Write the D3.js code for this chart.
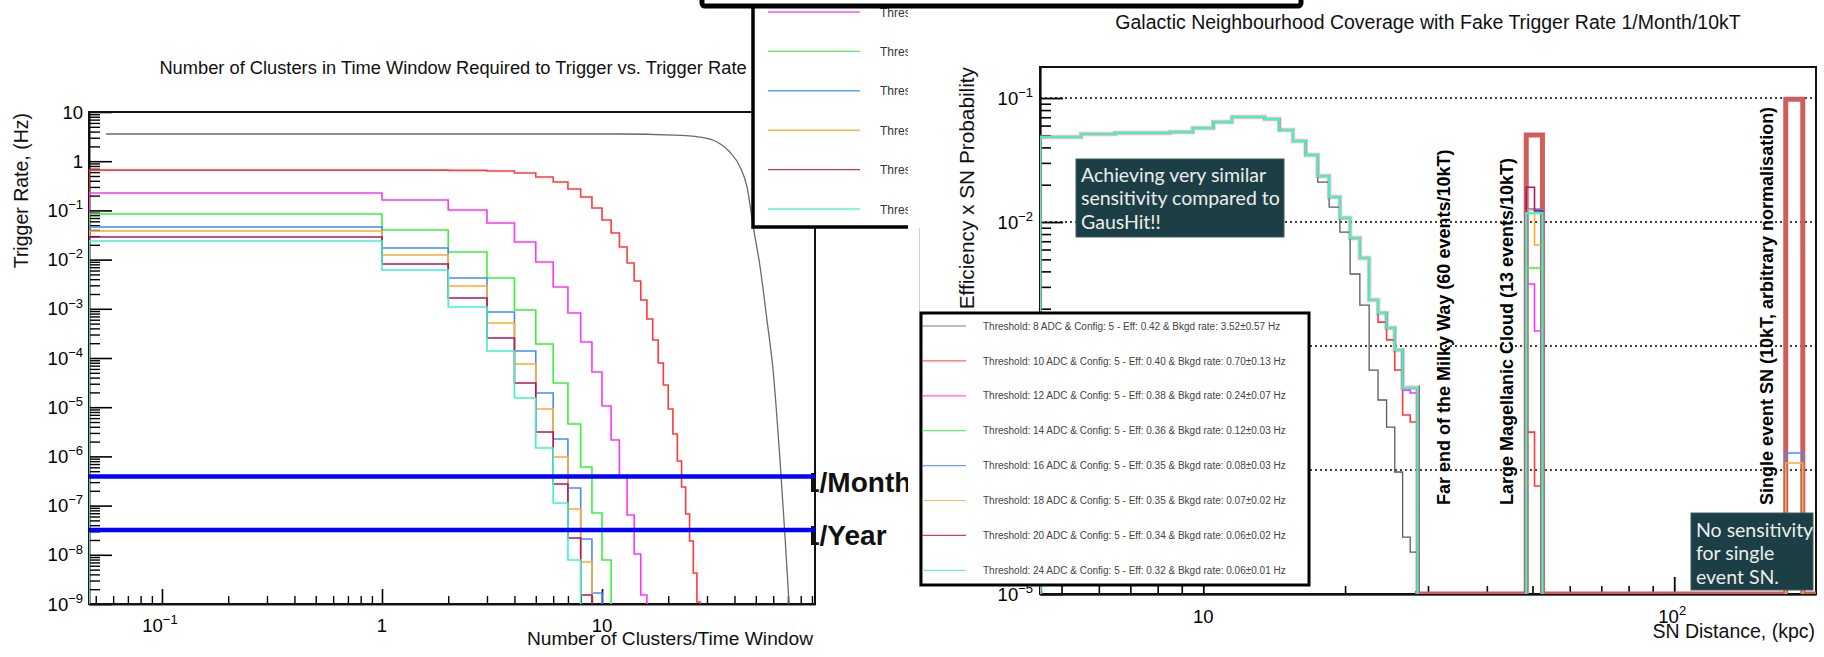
<!DOCTYPE html>
<html>
<head>
<meta charset="utf-8">
<script src="https://cdn.jsdelivr.net/npm/d3@7/dist/d3.min.js"></script>
<style>
html,body{margin:0;padding:0;background:#fff;}
svg{display:block;}
</style>
</head>
<body>
<svg id="chart" width="1824" height="657" xmlns="http://www.w3.org/2000/svg"></svg>
<script>
// ================= DATA =================
const thresholdsADC = [8, 10, 12, 14, 16, 18, 20, 24];
const configNumber = 5;
const efficiencies = ["0.42", "0.40", "0.38", "0.36", "0.35", "0.35", "0.34", "0.32"];
const bkgdRates = ["3.52", "0.70", "0.24", "0.12", "0.08", "0.07", "0.06", "0.06"];
const bkgdErrors = ["0.57", "0.13", "0.07", "0.03", "0.03", "0.02", "0.02", "0.01"];

// ---- Left chart: trigger rate (Hz) vs number of clusters in time window ----
// 8 ADC: smooth curve (clusters, Hz)
const rate8Clusters = [0.0556, 12.1, 21.0, 27.8, 33.4, 38.1, 42.4, 45.6, 48.7, 52.3, 56.2, 59.9, 64.4, 67.9, 70.8];
const rate8Hz = [3.57, 3.57, 3.40, 3.10, 2.46, 1.54, 0.763, 0.300, 0.0461, 0.00708, 0.00059, 0.000057, 8.5e-7, 2.3e-8, 1e-9];
// other thresholds: histogram, bin n = [n, n+1) clusters (bin 0 starts at axis minimum)
const rate10Hz = [0.66, 0.66, 0.65, 0.63, 0.575, 0.477, 0.377, 0.272, 0.187, 0.112, 0.0638, 0.0348, 0.0180, 0.00853, 0.00367, 0.00151, 6.21e-4, 2.32e-4, 7.91e-5, 2.82e-5, 9.18e-6, 2.85e-6, 8.07e-7, 2.39e-7, 6.75e-8, 1.91e-8, 4.27e-9, 1.1e-9];
const rate12Hz = [0.226, 0.163, 0.102, 0.0555, 0.0228, 0.00893, 0.00277, 8.22e-4, 2.11e-4, 5.19e-5, 1.06e-5, 2.15e-6, 4.0e-7, 6.44e-8, 1.04e-8, 1.52e-9];
const rate14Hz = [0.0845, 0.040, 0.01427, 0.00423, 9.46e-4, 1.93e-4, 3.10e-5, 4.56e-6, 6.10e-7, 7.08e-8, 7.83e-9];
const rate16Hz = [0.046, 0.0172, 0.00423, 8.61e-4, 1.39e-4, 1.95e-5, 2.26e-6, 2.28e-7, 2.09e-8, 1.67e-9];
const rate18Hz = [0.0381, 0.0124, 0.0029, 5.14e-4, 7.55e-5, 9.18e-6, 9.72e-7, 8.53e-8, 7.14e-9];
const rate20Hz = [0.0288, 0.00815, 0.00166, 2.55e-4, 3.10e-5, 3.13e-6, 2.75e-7, 2.19e-8, 1.52e-9];
const rate24Hz = [0.0239, 0.00615, 0.00109, 1.39e-4, 1.54e-5, 1.48e-6, 1.13e-7, 7.83e-9];
const fakeRateLevels = [3.9e-7, 3.2e-8];
const fakeRateLabels = ["1/Month", "1/Year"];
const leftTitle = "Number of Clusters in Time Window Required to Trigger vs. Trigger Rate";
const leftXTitle = "Number of Clusters/Time Window";
const leftYTitle = "Trigger Rate, (Hz)";
const leftYTickExps = [-9, -8, -7, -6, -5, -4, -3, -2, -1, 0, 1];
const leftXTicks = [0.1, 1, 10];
const leftXTickBase = ["10", "1", "10"];
const leftXTickSup = ["\u22121", "", ""];

// ---- Right chart: efficiency x SN probability vs SN distance (kpc) ----
const distEdges = [4.5, 5.5, 6.5, 7.5, 8.5, 9.5, 10.5, 11.5, 12.5, 13.5, 14.5, 15.5, 16.5, 17.5, 18.5, 19.5, 20.5, 21.5, 22.5, 23.5, 24.5, 25.5, 26.5, 27.5, 28.5, 48.5, 50.5, 52.5, 172.5, 187.5, 200];
const eff8 = [0.0485, 0.0513, 0.0523, 0.0523, 0.0532, 0.0573, 0.064, 0.0703, 0.0703, 0.0677, 0.0552, 0.045, 0.0347, 0.021, 0.0132, 0.0083, 0.00381, 0.00214, 0.00064, 0.000367, 0.000222, 0.0000964, 0.0000288, 0.0000218, 0, 0, 0, 0, 0, 0];
const eff10 = [0.0485, 0.0513, 0.0523, 0.0523, 0.0532, 0.0573, 0.064, 0.0703, 0.0703, 0.0677, 0.0552, 0.045, 0.0347, 0.0235, 0.0159, 0.01076, 0.00743, 0.00513, 0.00235, 0.00156, 0.00112, 0.00064, 0.000278, 0.000244, 0, 0.000202, 0.0000743, 0, 0, 0];
const eff12 = [0.0485, 0.0513, 0.0523, 0.0523, 0.0532, 0.0573, 0.064, 0.0703, 0.0703, 0.0677, 0.0552, 0.045, 0.0347, 0.0235, 0.0159, 0.01076, 0.00743, 0.00513, 0.00235, 0.00185, 0.0014, 0.000929, 0.000441, 0.000418, 0, 0.00316, 0.00132, 0, 0, 0];
const eff14 = [0.0485, 0.0513, 0.0523, 0.0523, 0.0532, 0.0573, 0.064, 0.0703, 0.0703, 0.0677, 0.0552, 0.045, 0.0347, 0.0235, 0.0159, 0.01076, 0.00743, 0.00513, 0.00235, 0.00185, 0.0014, 0.000929, 0.000458, 0.000458, 0, 0.00426, 0.00426, 0, 0, 0];
const eff16 = [0.0485, 0.0513, 0.0523, 0.0523, 0.0532, 0.0573, 0.064, 0.0703, 0.0703, 0.0677, 0.0552, 0.045, 0.0347, 0.0235, 0.0159, 0.01076, 0.00743, 0.00513, 0.00235, 0.00185, 0.0014, 0.000929, 0.000458, 0.000458, 0, 0.0127, 0.0127, 0, 0.000137, 0];
const eff18 = [0.0485, 0.0513, 0.0523, 0.0523, 0.0532, 0.0573, 0.064, 0.0703, 0.0703, 0.0677, 0.0552, 0.045, 0.0347, 0.0235, 0.0159, 0.01076, 0.00743, 0.00513, 0.00235, 0.00185, 0.0014, 0.000929, 0.000458, 0.000458, 0, 0.0125, 0.00653, 0, 0.000114, 0];
const eff20 = [0.0485, 0.0513, 0.0523, 0.0523, 0.0532, 0.0573, 0.064, 0.0703, 0.0703, 0.0677, 0.0552, 0.045, 0.0347, 0.0235, 0.0159, 0.01076, 0.00743, 0.00513, 0.00235, 0.00185, 0.0014, 0.000929, 0.000458, 0.000458, 0, 0.0191, 0.0123, 0, 0, 0];
const eff24 = [0.0485, 0.0513, 0.0523, 0.0523, 0.0532, 0.0573, 0.064, 0.0703, 0.0703, 0.0677, 0.0552, 0.045, 0.0347, 0.0235, 0.0159, 0.01076, 0.00743, 0.00513, 0.00235, 0.00185, 0.0014, 0.000929, 0.000458, 0.000458, 0, 0.0118, 0.0118, 0, 0, 0];
const snProbability = [0.0485, 0.0513, 0.0523, 0.0523, 0.0532, 0.0573, 0.064, 0.0703, 0.0703, 0.0677, 0.0552, 0.045, 0.0347, 0.0235, 0.0159, 0.01076, 0.00743, 0.00513, 0.00235, 0.00185, 0.0014, 0.000929, 0.00046, 0.00046, 0, 0.0503, 0.0503, 0, 0.098, 0];
const rightTitle = "Galactic Neighbourhood Coverage with Fake Trigger Rate 1/Month/10kT";
const rightXTitle = "SN Distance, (kpc)";
const rightYTitle = "Efficiency x SN Probability";
const rightYTickExps = [-5, -4, -3, -2, -1];
const rightXTicks = [10, 100];
const rightXTickBase = ["10", "10"];
const rightXTickSup = ["", "2"];
const regionLabels = ["Far end of the Milky Way (60 events/10kT)", "Large Magellanic Cloud (13 events/10kT)", "Single event SN (10kT, arbitrary normalisation)"];
const noteTop = ["Achieving very similar", "sensitivity compared to", "GausHit!!"];
const noteBottom = ["No sensitivity", "for single", "event SN."];

// ================= STYLE =================
const FONT = '"Liberation Sans", Arial, Helvetica, sans-serif';
const seriesColors = ["#5a5a5a", "#ff3a3a", "#ff33ff", "#38f238", "#418cff", "#ffab2a", "#b3145c", "#38f5cc"];
const seriesWidths = [1.3, 1.6, 1.6, 1.6, 1.6, 1.6, 1.6, 2.2];

const svg = d3.select("#chart");
const defs = svg.append("defs");

function powLabel(g, x, y, anchor, base, sup, size, supSize, weight) {
  const t = g.append("text").attr("x", x).attr("y", y).attr("text-anchor", anchor)
    .attr("font-family", FONT).attr("font-size", size).attr("fill", "#000");
  if (weight) t.attr("font-weight", weight);
  t.append("tspan").text(base);
  if (sup) t.append("tspan").attr("dy", -size * 0.42).attr("font-size", supSize).text(sup);
  return t;
}

function stepPath(edges, vals, xs, ys, yBottom, alongBottom) {
  let d = "", pen = false;
  for (let i = 0; i < vals.length; i++) {
    const v = vals[i], x0 = xs(edges[i]), x1 = xs(edges[i + 1]);
    if (v > 0) {
      const y = Math.min(yBottom, ys(v));
      if (!pen) { d += `M${x0},${yBottom}L${x0},${y}`; pen = true; }
      else d += `L${x0},${y}`;
      d += `L${x1},${y}`;
    } else if (alongBottom) {
      if (!pen) { d += `M${x0},${yBottom}`; pen = true; } else d += `L${x0},${yBottom}`;
      d += `L${x1},${yBottom}`;
    } else if (pen) {
      d += `L${x0},${yBottom}`; pen = false;
    }
  }
  if (pen) d += `L${xs(edges[vals.length])},${yBottom}`;
  return d;
}

function minorTicks(e0, e1, lo, hi) {
  const out = [];
  for (let e = e0; e <= e1; e++) for (let m = 2; m <= 9; m++) {
    const v = m * Math.pow(10, e);
    if (v >= lo && v <= hi) out.push(v);
  }
  return out;
}

function styleAxis(g, w) {
  g.selectAll("line,path").attr("stroke", "#000").attr("stroke-width", w);
  g.selectAll("text").remove();
}

// ================= LEFT CHART =================
const L = { left: 89, right: 815, top: 112, bottom: 604 };
const Lx = d3.scaleLog().domain([0.0466, 92.9]).range([L.left, L.right]);
const Ly = d3.scaleLog().domain([1e-9, 10]).range([L.bottom, L.top]);

defs.append("clipPath").attr("id", "clipL").append("rect")
  .attr("x", L.left).attr("y", L.top).attr("width", L.right - L.left).attr("height", L.bottom - L.top);
defs.append("clipPath").attr("id", "clipLabel").append("rect")
  .attr("x", 811).attr("y", 0).attr("width", 300).attr("height", 657);

const gL = svg.append("g");

// axes (ticks inward)
const lyMaj = gL.append("g").attr("transform", `translate(${L.left},0)`)
  .call(d3.axisLeft(Ly).tickValues(leftYTickExps.map(e => Math.pow(10, e))).tickSize(-23).tickSizeOuter(0).tickFormat(""));
styleAxis(lyMaj, 1.6);
const lyMin = gL.append("g").attr("transform", `translate(${L.left},0)`)
  .call(d3.axisLeft(Ly).tickValues(minorTicks(-9, 0, 1e-9, 10)).tickSize(-11).tickSizeOuter(0).tickFormat(""));
styleAxis(lyMin, 1.4);
const lxMaj = gL.append("g").attr("transform", `translate(0,${L.bottom})`)
  .call(d3.axisBottom(Lx).tickValues(leftXTicks).tickSize(-15).tickSizeOuter(0).tickFormat(""));
styleAxis(lxMaj, 1.6);
const lxMin = gL.append("g").attr("transform", `translate(0,${L.bottom})`)
  .call(d3.axisBottom(Lx).tickValues(minorTicks(-2, 1, 0.0466, 92.9)).tickSize(-8).tickSizeOuter(0).tickFormat(""));
styleAxis(lxMin, 1.4);

gL.append("rect").attr("x", L.left).attr("y", L.top).attr("width", L.right - L.left).attr("height", L.bottom - L.top)
  .attr("fill", "none").attr("stroke", "#111").attr("stroke-width", 2);

const plotL = gL.append("g").attr("clip-path", "url(#clipL)");
// 8 ADC curve
plotL.append("path")
  .attr("d", d3.line().x((d, i) => Lx(rate8Clusters[i])).y(d => Ly(d)).curve(d3.curveMonotoneX)(rate8Hz))
  .attr("fill", "none").attr("stroke", "#6a6a6a").attr("stroke-width", 1.3);

const leftSeries = [null, rate10Hz, rate12Hz, rate14Hz, rate16Hz, rate18Hz, rate20Hz, rate24Hz];
leftSeries.forEach((vals, si) => {
  if (!vals) return;
  const edges = [Lx.domain()[0]];
  for (let n = 1; n <= vals.length; n++) edges.push(n);
  plotL.append("path").attr("d", stepPath(edges, vals, Lx, Ly, L.bottom, false))
    .attr("fill", "none").attr("stroke", seriesColors[si]).attr("stroke-width", 1.6);
});

// fake trigger rate lines
const labG = gL.append("g").attr("clip-path", "url(#clipLabel)");
fakeRateLevels.forEach((v, i) => {
  gL.append("line").attr("x1", L.left).attr("x2", L.right).attr("y1", Ly(v)).attr("y2", Ly(v))
    .attr("stroke", "#0000ff").attr("stroke-width", 4.5);
  labG.append("text").attr("x", 804).attr("y", Ly(v) + 15.5).attr("font-family", FONT)
    .attr("font-size", 28).attr("font-weight", "bold").attr("fill", "#111").text(fakeRateLabels[i]);
});

// tick labels
leftYTickExps.forEach(e => {
  const base = e === 0 ? "1" : "10";
  const sup = (e === 0 || e === 1) ? "" : "\u2212" + (-e);
  powLabel(gL, 83, Ly(Math.pow(10, e)) + 6.5, "end", base, sup, 18.5, 13);
});
leftXTicks.forEach((v, i) => {
  powLabel(gL, Lx(v) - (leftXTickSup[i] ? 2 : 0), 632, "middle", leftXTickBase[i], leftXTickSup[i], 18.5, 13);
});

// titles
gL.append("text").attr("x", 453).attr("y", 74).attr("text-anchor", "middle").attr("font-family", FONT)
  .attr("font-size", 18.3).attr("fill", "#111").text(leftTitle);
gL.append("text").attr("x", 813).attr("y", 645).attr("text-anchor", "end").attr("font-family", FONT)
  .attr("font-size", 19.2).attr("fill", "#111").text(leftXTitle);
gL.append("text").attr("transform", "translate(28,113) rotate(-90)").attr("text-anchor", "end")
  .attr("font-family", FONT).attr("font-size", 19.5).attr("fill", "#111").text(leftYTitle);

// left legend (partly covered)
const legL = svg.append("g");
legL.append("rect").attr("x", 753).attr("y", -40).attr("width", 400).attr("height", 267)
  .attr("fill", "#fff").attr("stroke", "#000").attr("stroke-width", 3.5);
thresholdsADC.forEach((t, i) => {
  const y = 12 + (i - 2) * 39.4;
  legL.append("line").attr("x1", 768).attr("x2", 860).attr("y1", y).attr("y2", y)
    .attr("stroke", seriesColors[i]).attr("stroke-width", 1.4).attr("stroke-opacity", 0.85);
  legL.append("text").attr("x", 880).attr("y", y + 4.5).attr("font-family", FONT).attr("font-size", 12)
    .attr("fill", "#333")
    .text(`Threshold: ${t} ADC & Config: ${configNumber} - Eff: ${efficiencies[i]} & Bkgd rate: ${bkgdRates[i]}\u00b1${bkgdErrors[i]} Hz`);
});

// ================= RIGHT PANEL =================
svg.append("rect").attr("x", 908).attr("y", 0).attr("width", 916).attr("height", 657).attr("fill", "#fff");
svg.append("line").attr("x1", 919.5).attr("x2", 919.5).attr("y1", 228).attr("y2", 587)
  .attr("stroke", "#cfcfcf").attr("stroke-width", 1);

const R = { left: 1040, right: 1816, top: 67, bottom: 594 };
const Rx = d3.scaleLog().domain([4.5, 200]).range([R.left, R.right]);
const Ry = d3.scaleLog().domain([1e-5, 0.178]).range([R.bottom, R.top]);
defs.append("clipPath").attr("id", "clipR").append("rect")
  .attr("x", R.left).attr("y", R.top).attr("width", R.right - R.left).attr("height", R.bottom - R.top);
defs.append("clipPath").attr("id", "clipRmain").append("rect")
  .attr("x", R.left).attr("y", R.top).attr("width", Rx(28.5) + 1 - R.left).attr("height", R.bottom - R.top - 2);
defs.append("clipPath").attr("id", "clipRfar").append("rect")
  .attr("x", Rx(28.5) + 1).attr("y", R.top).attr("width", R.right - Rx(28.5) - 1).attr("height", R.bottom - R.top);
defs.append("clipPath").attr("id", "clipRbase").append("rect")
  .attr("x", R.left).attr("y", R.bottom - 3).attr("width", Rx(28.5) + 1 - R.left).attr("height", 3);

const gR = svg.append("g");
// dotted grid
rightYTickExps.forEach(e => {
  const y = Ry(Math.pow(10, e));
  gR.append("line").attr("x1", R.left).attr("x2", R.right).attr("y1", y).attr("y2", y)
    .attr("stroke", "#000").attr("stroke-width", 1.6).attr("stroke-dasharray", "2,3");
});
// axes
const ryMaj = gR.append("g").attr("transform", `translate(${R.left},0)`)
  .call(d3.axisLeft(Ry).tickValues(rightYTickExps.map(e => Math.pow(10, e))).tickSize(-23).tickSizeOuter(0).tickFormat(""));
styleAxis(ryMaj, 1.8);
const ryMin = gR.append("g").attr("transform", `translate(${R.left},0)`)
  .call(d3.axisLeft(Ry).tickValues(minorTicks(-5, -2, 1e-5, 0.178)).tickSize(-11).tickSizeOuter(0).tickFormat(""));
styleAxis(ryMin, 1.6);
const rxMaj = gR.append("g").attr("transform", `translate(0,${R.bottom})`)
  .call(d3.axisBottom(Rx).tickValues(rightXTicks).tickSize(-17).tickSizeOuter(0).tickFormat(""));
styleAxis(rxMaj, 1.8);
const rxMin = gR.append("g").attr("transform", `translate(0,${R.bottom})`)
  .call(d3.axisBottom(Rx).tickValues(minorTicks(0, 1, 4.6, 199)).tickSize(-8).tickSizeOuter(0).tickFormat(""));
styleAxis(rxMin, 1.6);
gR.append("rect").attr("x", R.left).attr("y", R.top).attr("width", R.right - R.left).attr("height", R.bottom - R.top)
  .attr("fill", "none").attr("stroke", "#111").attr("stroke-width", 2);

// histograms
const envD = stepPath(distEdges, snProbability, Rx, Ry, R.bottom, true);
gR.append("g").attr("clip-path", "url(#clipRmain)").append("path").attr("d", envD)
  .attr("fill", "none").attr("stroke", "#f08c8c").attr("stroke-width", 4.5).attr("stroke-opacity", 0.6);
gR.append("g").attr("clip-path", "url(#clipRfar)").append("path").attr("d", envD)
  .attr("fill", "none").attr("stroke", "#d05c5c").attr("stroke-width", 5);
gR.append("g").attr("clip-path", "url(#clipRbase)").append("path").attr("d", envD)
  .attr("fill", "none").attr("stroke", "#d05c5c").attr("stroke-width", 5);

const plotR = gR.append("g").attr("clip-path", "url(#clipR)");
const rightSeries = [eff8, eff10, eff12, eff14, eff16, eff18, eff20, eff24];
rightSeries.forEach((vals, si) => {
  plotR.append("path").attr("d", stepPath(distEdges, vals, Rx, Ry, R.bottom, false))
    .attr("fill", "none").attr("stroke", seriesColors[si]).attr("stroke-width", seriesWidths[si]);
});

// tick labels
rightYTickExps.forEach(e => {
  powLabel(gR, 1033, Ry(Math.pow(10, e)) + 6.5, "end", "10", "\u2212" + (-e), 18.5, 13);
});
rightXTicks.forEach((v, i) => {
  powLabel(gR, Rx(v) - (rightXTickSup[i] ? 2 : 0), 623, "middle", rightXTickBase[i], rightXTickSup[i], 18.5, 13);
});

// titles
gR.append("text").attr("x", 1428).attr("y", 29).attr("text-anchor", "middle").attr("font-family", FONT)
  .attr("font-size", 19.5).attr("fill", "#111").text(rightTitle);
gR.append("text").attr("x", 1815).attr("y", 638).attr("text-anchor", "end").attr("font-family", FONT)
  .attr("font-size", 19.5).attr("fill", "#111").text(rightXTitle);
gR.append("text").attr("transform", "translate(974,67) rotate(-90)").attr("text-anchor", "end")
  .attr("font-family", FONT).attr("font-size", 20.8).attr("fill", "#111").text(rightYTitle);

// vertical region labels
[1450, 1513, 1773].forEach((x, i) => {
  gR.append("text").attr("transform", `translate(${x},505) rotate(-90)`).attr("text-anchor", "start")
    .attr("font-family", FONT).attr("font-size", 18).attr("font-weight", "bold").attr("fill", "#000")
    .text(regionLabels[i]);
});

// annotation boxes
function noteBox(x, y, w, h, lines, baseY) {
  gR.append("rect").attr("x", x).attr("y", y).attr("width", w).attr("height", h)
    .attr("fill", "#1c3f45").attr("stroke", "#3d5e63").attr("stroke-width", 1);
  lines.forEach((s, i) => {
    gR.append("text").attr("x", x + 5).attr("y", baseY + i * 23.3)
      .attr("font-family", "Lato, 'Open Sans', sans-serif").attr("font-size", 19.5).attr("fill", "#ececec").text(s);
  });
}
noteBox(1076, 159, 208, 78, noteTop, 182);
noteBox(1691, 513, 122, 77, noteBottom, 537);

// right legend
const legR = gR.append("g");
legR.append("rect").attr("x", 921).attr("y", 313).attr("width", 388).attr("height", 272)
  .attr("fill", "#fff").attr("stroke", "#000").attr("stroke-width", 3);
thresholdsADC.forEach((t, i) => {
  const y = 326 + i * 34.9;
  legR.append("line").attr("x1", 922).attr("x2", 966).attr("y1", y).attr("y2", y)
    .attr("stroke", seriesColors[i]).attr("stroke-width", 1.2).attr("stroke-opacity", 0.8);
  legR.append("text").attr("x", 983).attr("y", y + 3.6).attr("font-family", FONT).attr("font-size", 10)
    .attr("fill", "#444")
    .text(`Threshold: ${t} ADC & Config: ${configNumber} - Eff: ${efficiencies[i]} & Bkgd rate: ${bkgdRates[i]}\u00b1${bkgdErrors[i]} Hz`);
});

// top overlay box (slide frame)
svg.append("rect").attr("x", 702).attr("y", -30).attr("width", 599).attr("height", 36).attr("rx", 3)
  .attr("fill", "#fff").attr("stroke", "#000").attr("stroke-width", 5);
</script>
</body>
</html>
